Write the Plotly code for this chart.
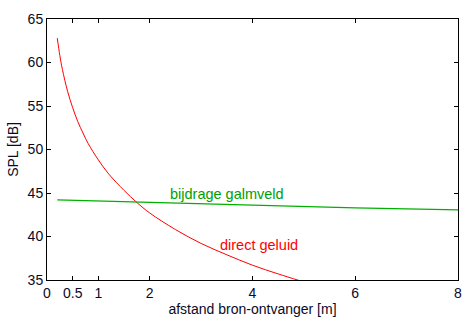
import plotly.graph_objects as go

direct_x = [0.2, 0.25, 0.3, 0.4, 0.5, 0.6, 0.7, 0.8, 1.0, 1.2, 1.5, 1.75, 2.0, 2.5, 3.0, 3.5, 4.0, 4.5, 4.93]
direct_y = [62.8, 60.8, 59.2, 56.7, 54.8, 53.2, 51.9, 50.7, 48.8, 47.2, 45.3, 43.9, 42.7, 40.8, 39.2, 37.9, 36.7, 35.7, 34.9]
galm_x = [0.2, 2.0, 4.0, 6.0, 8.0]
galm_y = [44.2, 43.9, 43.55, 43.3, 43.05]
x_ticks = [0, 0.5, 1, 2, 4, 6, 8]
x_ticktext = ["0", "0.5", "1", "2", "4", "6", "8"]
y_ticks = [35, 40, 45, 50, 55, 60, 65]

RED = "#ff0000"
GREEN = "#00b000"
FONT = "Liberation Sans, Arial, sans-serif"
TXT = "#0a0a28"

fig = go.Figure()
fig.add_trace(go.Scatter(x=direct_x, y=direct_y, mode="lines",
                         line=dict(color=RED, width=1), line_shape="spline",
                         showlegend=False, hoverinfo="skip"))
fig.add_trace(go.Scatter(x=galm_x, y=galm_y, mode="lines",
                         line=dict(color=GREEN, width=1.2),
                         showlegend=False, hoverinfo="skip"))

fig.add_annotation(x=3.5, y=44.9, text="bijdrage galmveld", showarrow=False,
                   font=dict(color="#00a000", size=14.5, family=FONT))
fig.add_annotation(x=4.12, y=39.0, text="direct geluid", showarrow=False,
                   font=dict(color=RED, size=14.5, family=FONT))

axis_common = dict(showline=True, linecolor="black", linewidth=1, mirror="ticks",
                   ticks="inside", ticklen=4, tickcolor="black",
                   showgrid=False, zeroline=False,
                   tickfont=dict(size=14, family=FONT, color=TXT))

fig.update_xaxes(range=[0, 8], tickvals=x_ticks, ticktext=x_ticktext,
                 title=dict(text="afstand bron-ontvanger [m]", standoff=3,
                            font=dict(size=14, family=FONT, color=TXT)),
                 **axis_common)
fig.update_yaxes(range=[35, 65], tickvals=y_ticks,
                 title=dict(text="SPL [dB]", standoff=5,
                            font=dict(size=14, family=FONT, color=TXT)),
                 **axis_common)

fig.update_layout(width=473, height=325,
                  margin=dict(l=47, r=15, t=11, b=40),
                  plot_bgcolor="white", paper_bgcolor="white",
                  font=dict(family=FONT))

fig.write_html("out.html")
